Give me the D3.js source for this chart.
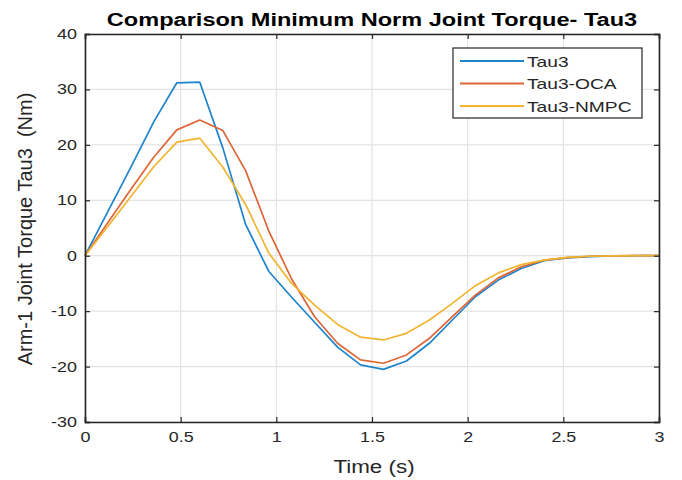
<!DOCTYPE html>
<html>
<head>
<meta charset="utf-8">
<script src="https://cdn.jsdelivr.net/npm/d3@7"></script>
<style>
  body { margin: 0; background: #fff; }
  svg text { font-family: Arial, "Liberation Sans", sans-serif; }
</style>
</head>
<body>
<div id="chart"></div>
<script>
// Comparison of Tau3 torque curves (MATLAB style line plot)

const times = [0, 0.12, 0.24, 0.36, 0.48, 0.6, 0.72, 0.84, 0.96, 1.08, 1.2, 1.32, 1.44,
               1.56, 1.68, 1.8, 1.92, 2.04, 2.16, 2.28, 2.4, 2.52, 2.64, 2.76, 2.88, 3.0];
const tau3 = [0, 8, 16, 24.2, 31.2, 31.3, 19.5, 5.6, -2.8, -7.5, -12, -16.5, -19.7,
              -20.5, -19, -15.8, -11.6, -7.4, -4.4, -2.3, -0.9, -0.4, -0.15, -0.05, 0, 0];
const tau3Oca = [0, 6, 12, 17.8, 22.7, 24.5, 22.6, 15.3, 4.5, -4.2, -11, -15.8, -18.8,
                 -19.4, -17.9, -14.9, -11, -7.1, -4, -2, -0.8, -0.35, -0.1, -0.03, 0, 0];
const tau3Nmpc = [0, 5.3, 10.7, 16.1, 20.5, 21.2, 16, 9.2, 0.5, -5, -8.9, -12.4, -14.7,
                  -15.2, -14, -11.6, -8.6, -5.4, -3.1, -1.6, -0.8, -0.3, -0.1, -0.03, 0, 0];

const seriesNames = ["Tau3", "Tau3-OCA", "Tau3-NMPC"];
const seriesColors = ["#1f84cc", "#de6536", "#f0b530"];
const xTicks = [0, 0.5, 1, 1.5, 2, 2.5, 3];
const yTicks = [-30, -20, -10, 0, 10, 20, 30, 40];

const width = 682, height = 480;
const margin = {top: 34, right: 23, bottom: 58, left: 85};
const sx = 1.28; // the reference is stretched horizontally

const svg = d3.select("#chart").append("svg")
  .attr("width", width)
  .attr("height", height);

const x = d3.scaleLinear().domain([0, 3]).range([margin.left, width - margin.right]);
const y = d3.scaleLinear().domain([-30, 40]).range([height - margin.bottom, margin.top]);

// grid
svg.append("g")
  .selectAll("line")
  .data(xTicks)
  .join("line")
  .attr("x1", d => x(d)).attr("x2", d => x(d))
  .attr("y1", y(-30)).attr("y2", y(40))
  .attr("stroke", "#e3e3e3").attr("stroke-width", 1.2);

svg.append("g")
  .selectAll("line")
  .data(yTicks)
  .join("line")
  .attr("x1", x(0)).attr("x2", x(3))
  .attr("y1", d => y(d)).attr("y2", d => y(d))
  .attr("stroke", "#e3e3e3").attr("stroke-width", 1.2);

// lines
const allSeries = [tau3, tau3Oca, tau3Nmpc];
const line = d3.line().x((d, i) => x(times[i])).y(d => y(d));

svg.append("g")
  .selectAll("path")
  .data(allSeries)
  .join("path")
  .attr("d", d => line(d))
  .attr("fill", "none")
  .attr("stroke", (d, i) => seriesColors[i])
  .attr("stroke-width", 1.7)
  .attr("stroke-linejoin", "round");

// axes: MATLAB box with ticks inward on all four sides
const tickLen = 5;
const axisColor = "#262626";
const fmt = d => String(d); // plain hyphen minus, like MATLAB

const bottomAxis = svg.append("g")
  .attr("transform", `translate(0,${y(-30)})`)
  .call(d3.axisBottom(x).tickValues(xTicks).tickSize(-tickLen).tickFormat(fmt));
const topAxis = svg.append("g")
  .attr("transform", `translate(0,${y(40)})`)
  .call(d3.axisTop(x).tickValues(xTicks).tickSize(-tickLen).tickFormat(""));
const leftAxis = svg.append("g")
  .attr("transform", `translate(${x(0)},0)`)
  .call(d3.axisLeft(y).tickValues(yTicks).tickSize(-tickLen).tickFormat(fmt));
const rightAxis = svg.append("g")
  .attr("transform", `translate(${x(3)},0)`)
  .call(d3.axisRight(y).tickValues(yTicks).tickSize(-tickLen).tickFormat(""));

[bottomAxis, topAxis, leftAxis, rightAxis].forEach(g => {
  g.select(".domain").attr("stroke", axisColor).attr("stroke-width", 1.6);
  g.selectAll(".tick line").attr("stroke", axisColor).attr("stroke-width", 1.2);
});

// tick labels, stretched like the picture
bottomAxis.selectAll(".tick text")
  .attr("font-size", "14px")
  .attr("fill", axisColor)
  .attr("y", null).attr("dy", null)
  .attr("transform", `translate(0,20) scale(${sx},1)`);

leftAxis.selectAll(".tick text")
  .attr("font-size", "14px")
  .attr("fill", axisColor)
  .attr("x", null)
  .attr("transform", `translate(-8,0) scale(${sx},1)`);

// title
svg.append("text")
  .attr("transform", `translate(${(x(0) + x(3)) / 2},26) scale(1.24,1)`)
  .attr("text-anchor", "middle")
  .attr("font-size", "19px")
  .attr("font-weight", "bold")
  .attr("fill", "#000")
  .text("Comparison Minimum Norm Joint Torque- Tau3");

// axis labels
svg.append("text")
  .attr("transform", `translate(374,473) scale(${sx},1)`)
  .attr("text-anchor", "middle")
  .attr("font-size", "17.5px")
  .attr("fill", axisColor)
  .text("Time (s)");

svg.append("text")
  .attr("transform", `translate(32,229) scale(1.05,1) rotate(-90)`)
  .attr("text-anchor", "middle")
  .attr("font-size", "20px")
  .attr("fill", axisColor)
  .attr("xml:space", "preserve")
  .style("white-space", "pre")
  .text("Arm-1 Joint Torque Tau3  (Nm)");

// legend
const legend = svg.append("g").attr("transform", "translate(453,48)");
legend.append("rect")
  .attr("width", 189).attr("height", 70)
  .attr("fill", "#fff")
  .attr("stroke", axisColor).attr("stroke-width", 1.2);

const rows = legend.selectAll("g")
  .data(seriesNames)
  .join("g")
  .attr("transform", (d, i) => `translate(0,${13 + i * 22.5})`);

rows.append("line")
  .attr("x1", 7).attr("x2", 71)
  .attr("stroke", (d, i) => seriesColors[i])
  .attr("stroke-width", 1.8);

rows.append("text")
  .attr("transform", `translate(74,5.5) scale(${sx},1)`)
  .attr("font-size", "15px")
  .attr("fill", axisColor)
  .text(d => d);
</script>
</body>
</html>
